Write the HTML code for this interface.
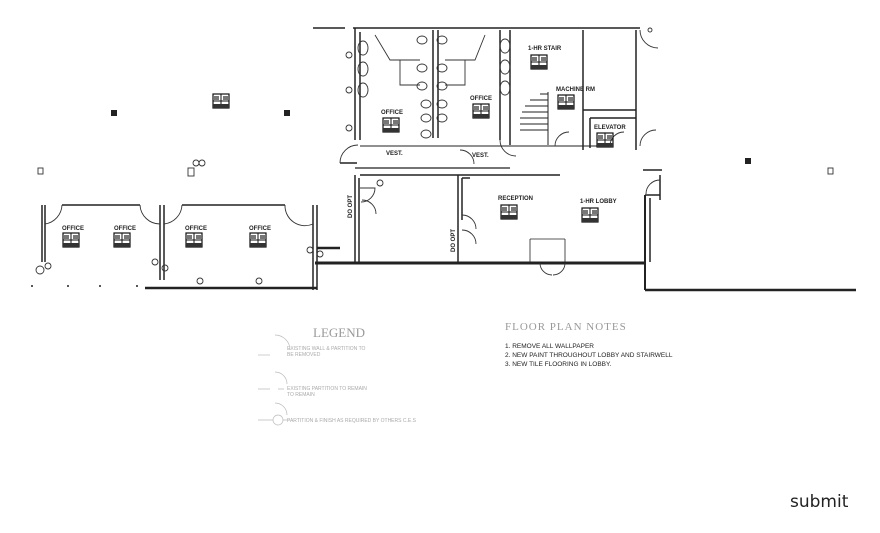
<!DOCTYPE html>
<html><head><meta charset="utf-8"><style>
html,body{margin:0;padding:0;background:#fff;width:880px;height:533px;overflow:hidden}
svg{display:block}
text{font-family:"Liberation Sans",sans-serif;fill:#222}
</style></head><body>
<svg width="880" height="533" viewBox="0 0 880 533" xmlns="http://www.w3.org/2000/svg">
<defs>
<g id="f"><rect x="0" y="0" width="16" height="14" fill="none" stroke="#111" stroke-width="1.2"/><line x1="8" y1="0" x2="8" y2="14" stroke="#111"/><line x1="0" y1="7" x2="16" y2="7" stroke="#111"/><rect x="0" y="10" width="16" height="4" fill="#333"/><rect x="1" y="2" width="5" height="4" fill="#777"/><rect x="10" y="2" width="5" height="4" fill="#777"/></g>
</defs>
<g stroke="#222" fill="none" stroke-width="1.5">
<line x1="313" y1="28" x2="345" y2="28"/>
<line x1="353" y1="28" x2="640" y2="28"/>
<line x1="355" y1="28" x2="355" y2="140"/>
<line x1="360" y1="32" x2="360" y2="140"/>
<line x1="433" y1="30" x2="433" y2="138"/>
<line x1="438" y1="30" x2="438" y2="138"/>
<line x1="500" y1="30" x2="500" y2="140"/>
<line x1="510" y1="30" x2="510" y2="145"/>
<line x1="583" y1="30" x2="583" y2="150"/>
<line x1="636" y1="30" x2="636" y2="150"/>
<line x1="583" y1="110" x2="636" y2="110"/>
<line x1="590" y1="118" x2="636" y2="118"/>
<line x1="590" y1="118" x2="590" y2="148"/>
<line x1="360" y1="146" x2="600" y2="146" stroke-width="1"/>
<line x1="355" y1="168" x2="510" y2="168" stroke-width="1.2"/>
<line x1="360" y1="175" x2="510" y2="175"/>
<line x1="340" y1="163" x2="357" y2="163"/>
<g stroke-width="1"><line x1="520" y1="130" x2="548" y2="130"/><line x1="520" y1="124" x2="548" y2="124"/><line x1="520" y1="118" x2="548" y2="118"/><line x1="522" y1="112" x2="548" y2="112"/><line x1="525" y1="106" x2="548" y2="106"/><line x1="530" y1="100" x2="548" y2="100"/><line x1="540" y1="94" x2="548" y2="94"/><line x1="548" y1="92" x2="548" y2="145"/></g>
<line x1="355" y1="175" x2="355" y2="263"/>
<line x1="359" y1="178" x2="359" y2="263"/>
<line x1="458" y1="175" x2="458" y2="263"/>
<line x1="462" y1="178" x2="462" y2="220"/>
<line x1="462" y1="178" x2="470" y2="178"/>
<line x1="510" y1="175" x2="560" y2="175"/>
<line x1="645" y1="195" x2="645" y2="290" stroke-width="2"/>
<line x1="650" y1="198" x2="650" y2="262"/>
<line x1="645" y1="195" x2="660" y2="195"/>
<line x1="660" y1="175" x2="660" y2="200"/>
<line x1="643" y1="170" x2="662" y2="170"/>
<line x1="315" y1="263" x2="645" y2="263" stroke-width="3"/>
<line x1="530" y1="239" x2="565" y2="239" stroke-width="0.8"/>
<line x1="530" y1="239" x2="530" y2="263" stroke-width="0.8"/>
<line x1="565" y1="239" x2="565" y2="263" stroke-width="0.8"/>
<line x1="42" y1="205" x2="42" y2="262"/>
<line x1="45" y1="205" x2="45" y2="262"/>
<line x1="62" y1="205" x2="140" y2="205"/>
<line x1="160" y1="205" x2="160" y2="280"/>
<line x1="164" y1="205" x2="164" y2="280"/>
<line x1="182" y1="205" x2="285" y2="205"/>
<line x1="313" y1="205" x2="313" y2="290"/>
<line x1="317" y1="205" x2="317" y2="290"/>
<line x1="145" y1="288" x2="317" y2="288" stroke-width="2.5"/>
<line x1="317" y1="248" x2="340" y2="248" stroke-width="2.5"/>
<line x1="645" y1="290" x2="856" y2="290" stroke-width="2.5"/>
<line x1="620" y1="263" x2="645" y2="263" stroke-width="3"/>
</g>
<g stroke="#333" fill="none" stroke-width="0.9">
<path d="M340 163 A18 18 0 0 1 358 145"/><path d="M360 188 L375 188 A14 14 0 0 1 361 202"/><path d="M362 200 A14 14 0 0 1 376 214"/>
<path d="M462 215 A14 14 0 0 1 476 229"/><path d="M462 230 A14 14 0 0 1 476 244"/>
<path d="M62 205 A20 20 0 0 1 45 224"/><path d="M140 205 A20 20 0 0 0 160 224"/><path d="M182 205 A20 20 0 0 1 164 224"/><path d="M285 205 A20 20 0 0 0 313 224"/>
<path d="M660 180 A14 14 0 0 0 646 194"/><path d="M640 30 A18 18 0 0 0 658 48"/><path d="M640 146 A16 16 0 0 1 656 130"/>
<path d="M540 263 A12 12 0 0 0 552 275"/><path d="M565 263 A12 12 0 0 1 553 275"/>
<path d="M610 146 A14 14 0 0 1 624 132"/><path d="M555 146 A14 14 0 0 1 569 132"/>
<path d="M460 150 A14 14 0 0 1 474 164"/><path d="M500 140 A16 16 0 0 0 516 156"/>
</g>
<g stroke="#333" fill="none" stroke-width="0.9">
<ellipse cx="363" cy="48" rx="5" ry="7"/><ellipse cx="363" cy="69" rx="5" ry="7"/><ellipse cx="363" cy="90" rx="5" ry="7"/>
<ellipse cx="422" cy="40" rx="5" ry="4"/><ellipse cx="422" cy="68" rx="5" ry="4"/><ellipse cx="422" cy="86" rx="5" ry="4"/><ellipse cx="426" cy="104" rx="5" ry="4"/><ellipse cx="426" cy="118" rx="5" ry="4"/><ellipse cx="426" cy="134" rx="5" ry="4"/>
<ellipse cx="442" cy="40" rx="5" ry="4"/><ellipse cx="442" cy="68" rx="5" ry="4"/><ellipse cx="442" cy="86" rx="5" ry="4"/><ellipse cx="442" cy="104" rx="5" ry="4"/><ellipse cx="442" cy="118" rx="5" ry="4"/>
<ellipse cx="505" cy="46" rx="5" ry="7"/><ellipse cx="505" cy="67" rx="5" ry="7"/><ellipse cx="505" cy="88" rx="5" ry="7"/>
<path d="M375 35 L390 60 L420 60"/><path d="M400 60 L400 85 L420 85"/><path d="M485 35 L475 60 L445 60"/><path d="M465 60 L465 85 L445 85"/>
<circle cx="349" cy="55" r="3"/><circle cx="349" cy="90" r="3"/><circle cx="349" cy="128" r="3"/><circle cx="650" cy="30" r="2"/>
<circle cx="40" cy="270" r="4"/><circle cx="48" cy="266" r="3"/><circle cx="155" cy="262" r="3"/><circle cx="165" cy="268" r="3"/><circle cx="310" cy="250" r="3"/><circle cx="320" cy="254" r="3"/><circle cx="259" cy="281" r="3"/><circle cx="200" cy="281" r="3"/>
<circle cx="196" cy="163" r="3"/><circle cx="202" cy="163" r="3"/><rect x="188" y="168" width="6" height="8"/><circle cx="380" cy="183" r="3"/>
<rect x="38" y="168" width="5" height="6"/><rect x="828" y="168" width="5" height="6"/>
</g>
<g fill="#222"><rect x="111" y="110" width="6" height="6"/><rect x="284" y="110" width="6" height="6"/><rect x="745" y="158" width="6" height="6"/>
<circle cx="32" cy="286" r="1"/><circle cx="68" cy="286" r="1"/><circle cx="100" cy="286" r="1"/><circle cx="137" cy="286" r="1"/></g>
<use href="#f" x="213" y="94"/>
<use href="#f" x="63" y="233"/><use href="#f" x="114" y="233"/><use href="#f" x="186" y="233"/><use href="#f" x="250" y="233"/>
<use href="#f" x="383" y="118"/><use href="#f" x="473" y="104"/><use href="#f" x="531" y="55"/><use href="#f" x="558" y="95"/>
<use href="#f" x="597" y="133"/><use href="#f" x="501" y="205"/><use href="#f" x="582" y="208"/>
<g font-size="6" font-weight="bold">
<text x="62" y="230">OFFICE</text><text x="114" y="230">OFFICE</text><text x="185" y="230">OFFICE</text><text x="249" y="230">OFFICE</text>
<text x="381" y="114">OFFICE</text><text x="470" y="100">OFFICE</text><text x="528" y="50">1-HR STAIR</text><text x="556" y="91">MACHINE RM</text>
<text x="594" y="129">ELEVATOR</text><text x="498" y="200">RECEPTION</text><text x="580" y="203">1-HR LOBBY</text>
<text x="386" y="155">VEST.</text><text x="472" y="157">VEST.</text>
<text x="352" y="218" transform="rotate(-90 352 218)">DO OPT</text><text x="455" y="252" transform="rotate(-90 455 252)">DO OPT</text>
</g>
<text x="313" y="337" style="font-family:'Liberation Serif',serif;font-size:13px;fill:#999">LEGEND</text>
<g font-size="5" style="fill:#aaa"><text x="287" y="350" style="fill:#aaa">EXISTING WALL &amp; PARTITION TO</text><text x="287" y="356" style="fill:#aaa">BE REMOVED</text>
<text x="287" y="390" style="fill:#aaa">EXISTING PARTITION TO REMAIN</text><text x="287" y="396" style="fill:#aaa">TO REMAIN</text>
<text x="287" y="422" style="fill:#aaa">PARTITION &amp; FINISH AS REQUIRED BY OTHERS  C.E.S</text></g>
<g stroke="#bbb" fill="none" stroke-width="0.7"><path d="M275 335 A15 15 0 0 1 290 350"/><path d="M258 355 L270 355"/><path d="M275 372 A12 12 0 0 1 287 384"/><path d="M258 389 L270 389 M278 389 L284 389"/><path d="M275 403 A12 12 0 0 1 287 415"/><circle cx="278" cy="420" r="5"/><path d="M258 420 L273 420 M283 420 L290 420"/></g>
<text x="505" y="330" style="font-family:'Liberation Serif',serif;font-size:11px;fill:#999;letter-spacing:1px">FLOOR PLAN NOTES</text>
<g font-size="6.5"><text x="505" y="348">1. REMOVE ALL WALLPAPER</text><text x="505" y="357">2. NEW PAINT THROUGHOUT LOBBY AND STAIRWELL</text><text x="505" y="366">3. NEW TILE FLOORING IN LOBBY.</text></g>
<text x="790" y="507" style="font-family:'DejaVu Sans',sans-serif;font-size:17px;fill:#222">submit</text>
</svg>
</body></html>
